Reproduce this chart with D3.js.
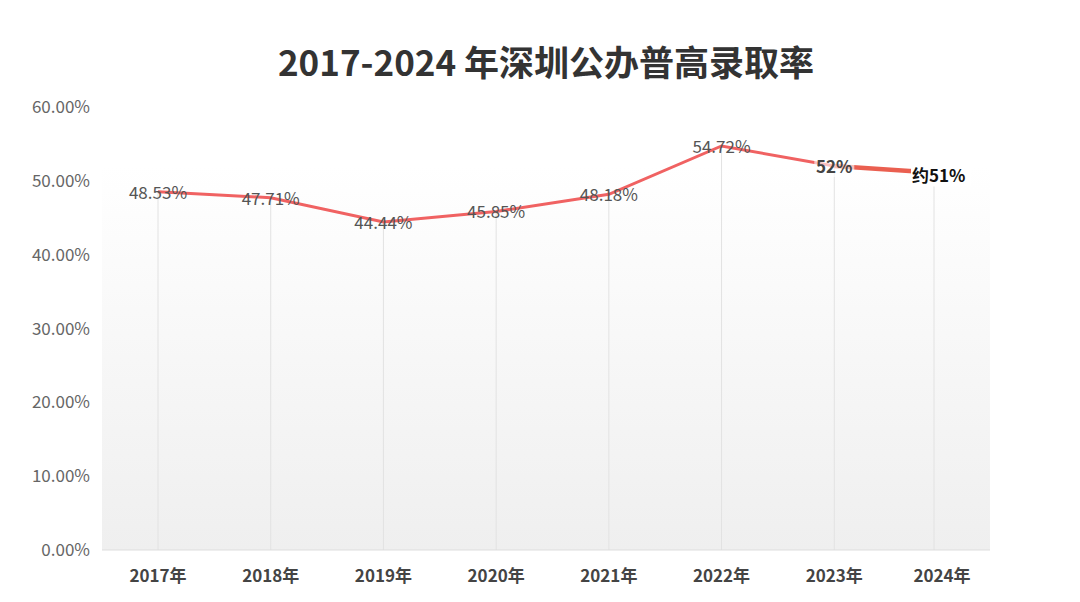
<!DOCTYPE html>
<html><head><meta charset="utf-8">
<script src="https://cdn.jsdelivr.net/npm/d3@7/dist/d3.min.js"></script>
<style>body{margin:0;background:#fff}svg{display:block}</style></head>
<body><svg id="c" width="1080" height="602"></svg>
<script>
const categories=["2017年","2018年","2019年","2020年","2021年","2022年","2023年","2024年"];
const values=[48.53,47.71,44.44,45.85,48.18,54.72,52,51];
const labels=["48.53%","47.71%","44.44%","45.85%","48.18%","54.72%","52%","约51%"];
const yTicks=[0,10,20,30,40,50,60];
const font="'Noto Sans CJK SC','Noto Sans',sans-serif";
const svg=d3.select("#c");
const L=102,R=990,T=107,B=550;
const x=d3.scalePoint().domain(categories).range([158,947]);
const y=d3.scaleLinear().domain([0,60]).range([B,T]);
const defs=svg.append("defs");
const g=defs.append("linearGradient").attr("id","bg").attr("x1",0).attr("x2",0).attr("y1",0).attr("y2",1);
g.append("stop").attr("offset",0).attr("stop-color","#ffffff");
g.append("stop").attr("offset",1).attr("stop-color","#efefef");
svg.append("rect").attr("x",L).attr("y",y(52)).attr("width",R-L).attr("height",B-y(52)).attr("fill","url(#bg)");
svg.append("text").attr("x",546).attr("y",76).attr("text-anchor","middle").attr("font-family",font)
 .attr("font-size",35).attr("font-weight","bold").attr("fill","#333").text("2017-2024 年深圳公办普高录取率");
svg.selectAll(".vg").data(categories).join("line").attr("x1",d=>x(d)-(d==="2024年"?13:0)).attr("x2",d=>x(d)-(d==="2024年"?13:0))
 .attr("y1",d=>y(values[categories.indexOf(d)])).attr("y2",B).attr("stroke","#e2e2e2");
svg.append("line").attr("x1",L).attr("x2",R).attr("y1",B).attr("y2",B).attr("stroke","#ddd");
svg.selectAll(".yt").data(yTicks).join("text").attr("x",90).attr("y",d=>y(d)+6).attr("text-anchor","end")
 .attr("font-family",font).attr("font-size",17).attr("fill","#666").text(d=>d.toFixed(2)+"%");
svg.selectAll(".xt").data(categories).join("text").attr("x",d=>x(d)-(d==="2024年"?5:0)).attr("y",582).attr("text-anchor","middle")
 .attr("font-family",font).attr("font-size",17).attr("font-weight","bold").attr("fill","#444").text(d=>d);
const line=d3.line().x(d=>x(d[0])).y(d=>y(d[1]));
const pts=categories.map((c,i)=>[c,values[i]]);
svg.append("path").attr("d",line(pts.slice(0,7))).attr("fill","none").attr("stroke","#f06262").attr("stroke-width",3);
svg.append("path").attr("d",line(pts.slice(6))).attr("fill","none").attr("stroke","#ea5f50").attr("stroke-width",4.5);
pts.slice(0,6).forEach((p,i)=>svg.append("text").attr("x",x(p[0])).attr("y",y(p[1])+7).attr("text-anchor","middle")
 .attr("font-family",font).attr("font-size",17).attr("fill","#555").text(labels[i]));
svg.append("rect").attr("x",x(categories[6])-20).attr("y",y(52)-11).attr("width",40).attr("height",22).attr("fill","#fff").attr("opacity",0.6);
svg.append("text").attr("x",x(categories[6])).attr("y",y(52)+7).attr("text-anchor","middle").attr("font-family",font)
 .attr("font-size",17).attr("font-weight","bold").attr("fill","#444").text(labels[6]);
svg.append("rect").attr("x",x(categories[7])-36).attr("y",y(51)-9).attr("width",60).attr("height",22).attr("fill","#fff");
svg.append("text").attr("x",x(categories[7])-35).attr("y",y(51)+9).attr("text-anchor","start").attr("font-family",font)
 .attr("font-size",17).attr("font-weight","bold").attr("fill","#111").text(labels[7]);
</script></body></html>
